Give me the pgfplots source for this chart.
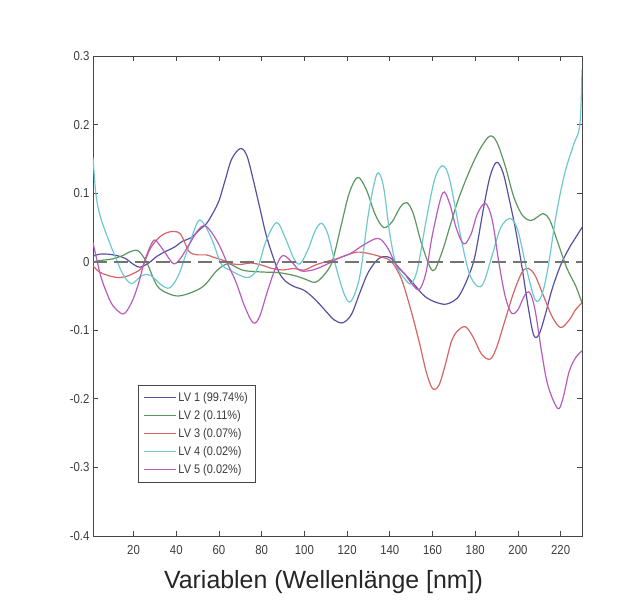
\documentclass[border=0pt]{standalone}
\usepackage{fontspec}
\setmainfont{Liberation Sans}
\newfontfamily\narrowfont[FakeStretch=0.88]{Liberation Sans}
\usepackage{pgfplots}
\pgfplotsset{compat=1.18}

\definecolor{lvone}{RGB}{85,80,160}
\definecolor{lvtwo}{RGB}{90,150,95}
\definecolor{lvthree}{RGB}{215,100,100}
\definecolor{lvfour}{RGB}{110,200,205}
\definecolor{lvfive}{RGB}{185,90,190}
\definecolor{axgray}{RGB}{70,70,70}
\definecolor{labgray}{RGB}{60,60,60}

% legend sample with an explicit stroke colour (the legend box's draw colour is inherited otherwise)
\pgfplotsset{lvleg/.style={legend image code/.code={\draw[draw=#1, line width=1.3pt] (0bp,0bp) -- (32bp,0bp);}}}

\begin{document}
\begin{tikzpicture}
\begin{axis}[
    scale only axis,
    width=489bp, height=480bp,
    xmin=1, xmax=230,
    ymin=-0.4, ymax=0.3,
    xtick={20,40,...,220},
    ytick={-0.4,-0.3,-0.2,-0.1,0,0.1,0.2,0.3},
    yticklabels={-0.4,-0.3,-0.2,-0.1,0,0.1,0.2,0.3},
    tick align=inside,
    major tick length=5bp,
    axis line style={axgray, line width=0.9pt},
    tick style={axgray, line width=0.8pt},
    tick label style={font=\narrowfont\fontsize{13}{15}\selectfont, text=labgray},
    xticklabel style={yshift=-6bp},
    /pgf/number format/assume math mode=true,
    xlabel={Variablen (Wellenlänge [nm])},
    xlabel style={font=\fontsize{25}{30}\selectfont, text=black!85, xshift=-14bp, yshift=-9bp},
    legend style={at={(0.092,0.1125)}, anchor=south west, draw=axgray,
        font=\narrowfont\fontsize{12.5}{14}\selectfont, text=labgray,
        row sep=3.5bp, inner xsep=5bp, inner ysep=5bp},
    legend cell align=left,
    every axis plot/.append style={line width=1.2pt, smooth, tension=0.55},
]
\coordinate (sw) at (rel axis cs:0,0);
\coordinate (ne) at (rel axis cs:1,1);

\addplot[draw=lvone, lvleg=lvone] coordinates {
(1,0.008)(4,0.011)(8,0.011)(12,0.009)(16,0.005)(20,-0.004)(23,-0.008)(27,-0.002)
(31,0.008)(35,0.015)(39,0.021)(43,0.03)(47,0.035)(51,0.047)(54,0.055)(57,0.07)
(60,0.089)(63,0.12)(66,0.15)(70,0.165)(73,0.155)(76,0.12)(79,0.08)(82,0.04)
(85,0.01)(88,-0.015)(91,-0.028)(95,-0.036)(100,-0.042)(105,-0.055)(110,-0.072)
(114,-0.085)(118,-0.089)(122,-0.077)(126,-0.045)(130,-0.015)(135,0.005)(140,0.006)
(144,-0.008)(150,-0.028)(157,-0.052)(165,-0.062)(170,-0.057)(173,-0.047)(177,-0.02)
(180,0.01)(184,0.08)(187,0.125)(190,0.145)(193,0.13)(196,0.09)(199,0.045)(202,-0.01)
(205,-0.07)(207.5,-0.108)(210,-0.105)(213,-0.075)(216,-0.04)(220,-0.005)(224,0.02)
(227,0.035)(230,0.05)
};
\addlegendentry{LV 1 (99.74\%)}

\addplot[draw=lvtwo, lvleg=lvtwo] coordinates {
(1,0.0)(5,0.002)(10,0.004)(15,0.009)(18,0.014)(22,0.016)(26,0.0)(31,-0.035)
(36,-0.046)(41,-0.05)(47,-0.045)(53,-0.035)(59,-0.013)(64,-0.003)(68,-0.008)
(72,-0.013)(80,-0.015)(88,-0.016)(95,-0.02)(100,-0.025)(105,-0.03)(109,-0.02)
(113,0.0)(117,0.05)(121,0.1)(125,0.123)(129,0.105)(133,0.07)(137,0.05)(141,0.058)
(145,0.08)(148,0.086)(151,0.07)(155,0.025)(160,-0.013)(164,0.01)(168,0.05)(172,0.09)
(177,0.13)(182,0.163)(186.7,0.183)(190,0.175)(194,0.14)(198,0.095)(202,0.068)
(206,0.06)(209,0.065)(212,0.07)(215,0.06)(219,0.025)(223,-0.01)(227,-0.035)(230,-0.06)
};
\addlegendentry{LV 2 (0.11\%)}

\addplot[draw=lvthree, lvleg=lvthree] coordinates {
(1,-0.006)(4,-0.015)(8,-0.02)(12,-0.023)(16,-0.022)(20,-0.017)(24,-0.008)(28,0.02)
(33,0.038)(38,0.044)(42,0.04)(46,0.015)(50,0.01)(54,0.01)(58,0.006)(62,0.002)
(66,-0.003)(70,-0.004)(75,-0.002)(80,-0.005)(85,-0.01)(90,-0.012)(95,-0.01)
(100,-0.012)(105,-0.005)(110,0.0)(115,0.004)(120,0.01)(125,0.014)(130,0.012)
(135,0.008)(140,0.002)(143,-0.01)(146,-0.03)(150,-0.072)(154,-0.12)(157,-0.16)
(160,-0.185)(163,-0.18)(166,-0.15)(169,-0.115)(172,-0.1)(175.5,-0.095)(179,-0.11)
(183,-0.135)(187,-0.142)(190,-0.125)(194,-0.085)(198,-0.045)(202,-0.015)(205,-0.01)
(208,-0.02)(212,-0.05)(216,-0.08)(220,-0.096)(224,-0.085)(227,-0.07)(230,-0.06)
};
\addlegendentry{LV 3 (0.07\%)}

\addplot[draw=lvfour, lvleg=lvfour] coordinates {
(1,0.152)(2,0.11)(3,0.085)(5,0.06)(9,0.026)(12,0.003)(15,-0.018)(19,-0.032)
(24,-0.02)(28,-0.02)(33,-0.034)(37,-0.038)(41,-0.02)(45,0.015)(50,0.058)(53,0.055)
(57,0.03)(61,-0.003)(65,-0.012)(70,-0.02)(74,-0.023)(78,-0.01)(82,0.03)(87,0.057)
(91,0.035)(95,0.005)(98,-0.003)(102,0.02)(105,0.045)(108,0.056)(111,0.04)(115,-0.01)
(119,-0.05)(122,-0.057)(126,-0.02)(130,0.07)(134,0.128)(137,0.11)(140,0.04)
(143,-0.005)(147,-0.025)(150,-0.032)(153,-0.01)(157,0.06)(161,0.12)(164.7,0.14)
(168,0.12)(173,0.04)(177,-0.015)(181,-0.036)(184,-0.03)(188,0.01)(192,0.05)
(196.5,0.063)(200,0.045)(204,-0.01)(208,-0.055)(211,-0.05)(214,-0.01)(218,0.07)
(222,0.13)(226,0.17)(229,0.2)(230,0.28)
};
\addlegendentry{LV 4 (0.02\%)}

\addplot[draw=lvfive, lvleg=lvfive] coordinates {
(1,0.028)(3,0.0)(5,-0.025)(9,-0.057)(12,-0.07)(15.5,-0.076)(19,-0.06)(22,-0.035)
(25.6,0.005)(29.4,0.031)(32,0.025)(35,0.012)(38.8,-0.003)(42,0.005)(46,0.025)
(50,0.045)(53,0.053)(56,0.045)(60,0.025)(64,-0.003)(68,-0.03)(72,-0.065)(76,-0.089)
(79,-0.08)(83,-0.04)(87,-0.005)(90,0.009)(94,0.0)(98,-0.013)(104,-0.012)(111,-0.003)
(116,0.005)(121.6,0.012)(128,0.025)(134.6,0.034)(139,0.02)(143,-0.005)(147,-0.018)
(151,-0.035)(154,-0.04)(157,-0.015)(160,0.04)(164.7,0.1)(168,0.085)(171,0.05)
(174.6,0.026)(178,0.04)(181,0.07)(184.8,0.085)(188,0.06)(191,0.0)(194,-0.05)
(197,-0.075)(200,-0.07)(203,-0.05)(205.5,-0.045)(208,-0.07)(211,-0.13)(214,-0.18)
(218.6,-0.214)(221,-0.2)(224,-0.16)(227,-0.14)(230,-0.13)
};
\addlegendentry{LV 5 (0.02\%)}

% zero reference line
\addplot[forget plot, sharp plot, draw=black!55, line width=2pt, dash pattern=on 14bp off 7bp]
coordinates {(1,0) (230,0)};
\end{axis}
\pgfresetboundingbox
\path[use as bounding box] ([shift={(-93bp,-65bp)}]sw) rectangle ([shift={(47bp,56bp)}]ne);
\end{tikzpicture}
\end{document}
